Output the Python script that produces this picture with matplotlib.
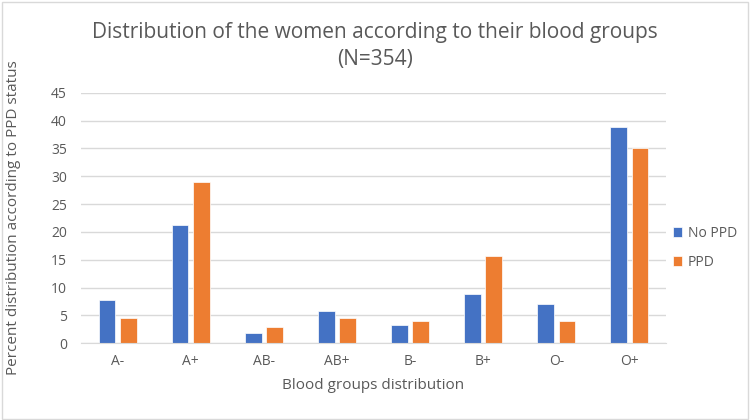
import numpy as np
import matplotlib.pyplot as plt

# Data
groups = ["A-", "A+", "AB-", "AB+", "B-", "B+", "O-", "O+"]
no_ppd = [7.7, 21.2, 1.9, 5.8, 3.2, 8.9, 7.1, 38.9]
ppd = [4.5, 29.0, 2.9, 4.5, 4.0, 15.6, 4.0, 35.1]
yticks = list(range(0, 50, 5))

blue = "#4472C4"
orange = "#ED7D31"
grey = "#595959"

plt.rcParams['font.family'] = ['Open Sans', 'DejaVu Sans']

fig = plt.figure(figsize=(7.5, 4.2), dpi=100)
ax = fig.add_axes([0.108, 0.183, 0.78, 0.596])

x = np.arange(len(groups))
w = 0.23
ax.bar(x - 0.145, no_ppd, w, color=blue, label="No PPD", edgecolor="white", linewidth=0.5)
ax.bar(x + 0.145, ppd, w, color=orange, label="PPD", edgecolor="white", linewidth=0.5)

ax.set_xlim(-0.5, len(groups) - 0.5)
ax.set_ylim(0, 45)
ax.set_yticks(yticks)
ax.set_xticks(x)
ax.set_xticklabels(groups)
ax.grid(axis="y", color="#D9D9D9", linewidth=1)
ax.set_axisbelow(True)
for s in ["top", "right", "left"]:
    ax.spines[s].set_visible(False)
ax.spines["bottom"].set_color("#D9D9D9")
ax.tick_params(length=0, colors=grey, labelsize=10)
ax.tick_params(axis="x", pad=8)
ax.tick_params(axis="y", pad=10)

ax.set_xlabel("Blood groups distribution", color=grey, fontsize=11, labelpad=6)
ax.set_ylabel("Percent distribution according to PPD status", color=grey, fontsize=11, labelpad=22)
fig.text(0.5, 0.89, "Distribution of the women according to their blood groups\n(N=354)",
         ha="center", va="center", fontsize=15, color=grey, linespacing=1.4)

ax.legend(loc="center left", bbox_to_anchor=(0.99, 0.38), frameon=False,
          fontsize=10, labelcolor=grey, handlelength=0.7, handleheight=0.7,
          handletextpad=0.4, labelspacing=1.0)

fig.patches.append(plt.Rectangle((0.002, 0.003), 0.995, 0.993, transform=fig.transFigure,
                                 fill=False, edgecolor="#D9D9D9", linewidth=1))

fig.savefig("out.png", dpi=100)
